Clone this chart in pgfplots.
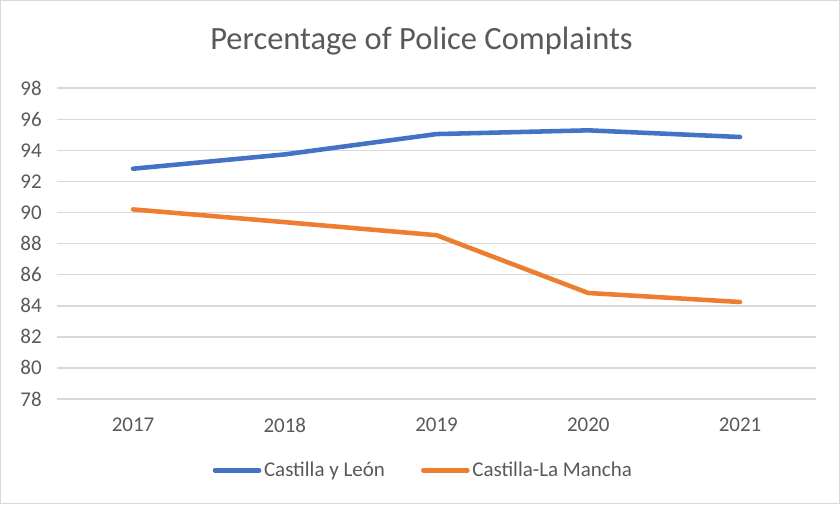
\documentclass[border=0pt]{standalone}
\usepackage{pgfplots}
\pgfplotsset{compat=1.18}
\usepackage{fontspec}
\setmainfont{Carlito}
\definecolor{cblue}{HTML}{4472C4}
\definecolor{corange}{HTML}{ED7D31}
\definecolor{txt}{HTML}{595959}
\definecolor{gridc}{HTML}{D9D9D9}

\begin{document}
\begin{tikzpicture}[x=0.75pt,y=0.75pt]
% chart area, 840 x 505 px
\draw[fill=white, draw=gridc, line width=0.8pt] (1.5,1.5) rectangle (838.5,503.5);
\node[text=txt, font=\fontsize{24.3}{28}\selectfont] at (421.5,463) {Percentage of Police Complaints};
\begin{axis}[
  at={(43.5pt,79.5pt)}, anchor=south west,
  scale only axis, width=567.75pt, height=232.5pt,
  xmin=-0.5, xmax=4.5, ymin=78, ymax=98,
  xtick={0,...,4}, xticklabels={2017,2018,2019,2020,2021},
  ytick={78,80,...,98},
  axis line style={draw=none}, major tick length=0pt,
  ymajorgrids, grid style={gridc, line width=1.2pt},
  tick label style={text=txt, font=\fontsize{15.7}{18}\selectfont},
  /pgf/number format/assume math mode=true,
  yticklabel style={xshift=-8pt},
  xticklabel style={yshift=-11pt},
  legend style={at={(0.483,-0.23)}, anchor=center, draw=none, fill=none,
    legend columns=2, font=\fontsize{15.7}{18}\selectfont, text=txt,
    /tikz/every even column/.append style={column sep=25pt}},
  legend image code/.code={\draw[#1, line width=3.4pt, line cap=round] (0pt,0pt) -- (33pt,0pt);},
  clip=false,
]
\addplot[cblue, line width=3.4pt, line cap=round, line join=round] coordinates {(0,92.82)(1,93.74)(2,95.05)(3,95.29)(4,94.86)};
\addplot[corange, line width=3.4pt, line cap=round, line join=round] coordinates {(0,90.2)(1,89.38)(2,88.54)(3,84.82)(4,84.24)};
\legend{Castilla y León, Castilla-La Mancha}
\end{axis}
\end{tikzpicture}
\end{document}
